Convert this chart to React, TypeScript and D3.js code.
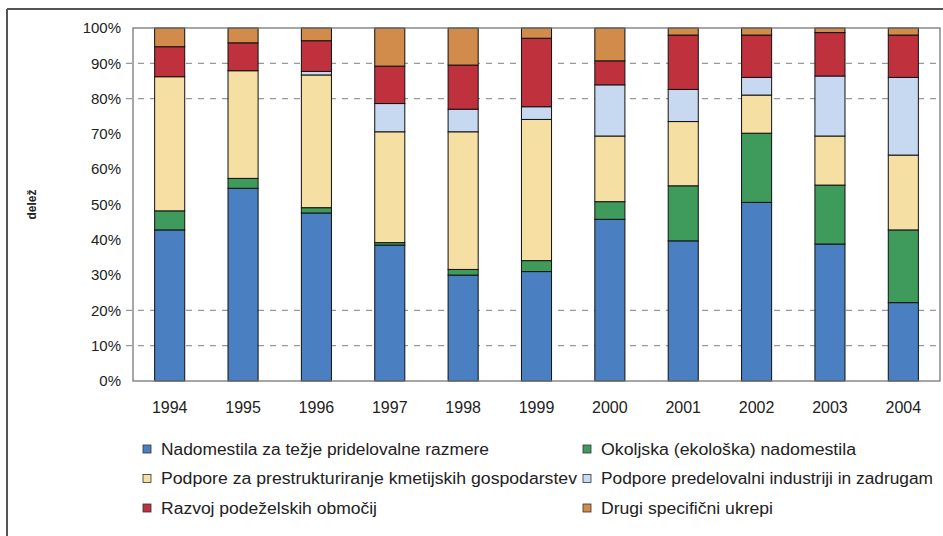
import React from "react";
import * as d3 from "d3";

const years = ["1994", "1995", "1996", "1997", "1998", "1999", "2000", "2001", "2002", "2003", "2004"];

const seriesNames = [
  "Nadomestila za težje pridelovalne razmere",
  "Okoljska (ekološka) nadomestila",
  "Podpore za prestrukturiranje kmetijskih gospodarstev",
  "Podpore predelovalni industriji in zadrugam",
  "Razvoj podeželskih območij",
  "Drugi specifični ukrepi",
];

// legend text widths
const legendWidths = [328, 255, 416, 332, 216, 172];

const colors = ["#4a7fc2", "#3f9b5c", "#f6dfa2", "#c7d9f0", "#be313d", "#d18b4b"];

// shares in %, one value per year
const lfa = [42.8, 54.6, 47.6, 38.5, 30.0, 31.0, 45.8, 39.7, 50.6, 38.8, 22.2];
const agriEnv = [5.4, 2.8, 1.5, 0.7, 1.6, 3.1, 5.0, 15.6, 19.6, 16.7, 20.6];
const restructuring = [38.0, 30.5, 37.6, 31.4, 39.0, 40.0, 18.6, 18.2, 10.8, 13.9, 21.2];
const processing = [0, 0, 1.0, 8.0, 6.4, 3.6, 14.5, 9.1, 5.0, 17.0, 22.0];
const rural = [8.5, 7.9, 8.7, 10.6, 12.5, 19.4, 6.8, 15.4, 12.0, 12.3, 12.0];
const other = [5.3, 4.2, 3.6, 10.8, 10.5, 2.9, 9.3, 2.0, 2.0, 1.3, 2.0];

const yTicks = [0, 10, 20, 30, 40, 50, 60, 70, 80, 90, 100];
const gridTicks = [10, 20, 80, 90];

const W = 943;
const H = 536;
const margin = { top: 28, right: 3, bottom: 155, left: 133 };

export default function App() {
  const table = years.map((year, i) => ({
    year,
    s0: lfa[i],
    s1: agriEnv[i],
    s2: restructuring[i],
    s3: processing[i],
    s4: rural[i],
    s5: other[i],
  }));
  const keys = ["s0", "s1", "s2", "s3", "s4", "s5"];
  const stacked = d3.stack<any>().keys(keys)(table);

  const x = d3
    .scaleBand()
    .domain(years)
    .range([margin.left, W - margin.right])
    .paddingInner(0.59)
    .paddingOuter(0.295);
  const y = d3.scaleLinear().domain([0, 100]).range([H - margin.bottom, margin.top]);

  const font = "'Liberation Sans', Arial, sans-serif";
  const plotW = W - margin.right - margin.left;

  return (
    <>
      <style>{"body{margin:0}"}</style>
      <svg width={W} height={H} style={{ display: "block", background: "#fff" }} fontFamily={font}>
        {/* outer frame */}
        <line x1={7} y1={9} x2={W} y2={9} stroke="#555" strokeWidth={2} />
        <line x1={7} y1={9} x2={7} y2={H} stroke="#555" strokeWidth={2} />

        {/* grid */}
        {gridTicks.map((t) => (
          <line
            key={t}
            x1={margin.left - 7}
            x2={W - margin.right}
            y1={y(t)}
            y2={y(t)}
            stroke="#999"
            strokeWidth={1.2}
            strokeDasharray="6 6"
          />
        ))}

        {/* bars */}
        {stacked.map((layer, li) => (
          <g key={li} fill={colors[li]}>
            {layer.map((d, i) =>
              d[1] - d[0] > 0 ? (
                <rect
                  key={i}
                  x={x(years[i])}
                  y={y(d[1])}
                  width={x.bandwidth()}
                  height={y(d[0]) - y(d[1])}
                  stroke="#111"
                  strokeWidth={1}
                />
              ) : null
            )}
          </g>
        ))}

        {/* plot frame */}
        <rect
          x={margin.left}
          y={margin.top}
          width={plotW}
          height={y(0) - y(100)}
          fill="none"
          stroke="#777"
          strokeWidth={1.3}
        />

        {/* y axis labels */}
        {yTicks.map((t) => (
          <text key={t} x={121} y={y(t)} dy="0.35em" textAnchor="end" fontSize={15} fill="#222">
            {t}%
          </text>
        ))}
        <text
          transform={`translate(36,${(y(0) + y(100)) / 2}) rotate(-90)`}
          textAnchor="middle"
          fontSize={12}
          fontWeight="bold"
          fill="#222"
        >
          delež
        </text>

        {/* x axis labels */}
        {years.map((yr) => (
          <text
            key={yr}
            x={(x(yr) as number) + x.bandwidth() / 2}
            y={413}
            textAnchor="middle"
            fontSize={16}
            fill="#222"
          >
            {yr}
          </text>
        ))}

        {/* legend */}
        {seriesNames.map((name, i) => {
          const col = i % 2;
          const row = Math.floor(i / 2);
          const lx = col === 0 ? 143 : 583;
          const ly = 449 + row * 29.5;
          return (
            <g key={name}>
              <rect x={lx} y={ly - 4} width={8} height={8} fill={colors[i]} stroke="#333" strokeWidth={0.8} />
              <text
                x={lx + 18}
                y={ly}
                dy="0.35em"
                fontSize={16}
                fill="#222"
                textLength={legendWidths[i]}
                lengthAdjust="spacingAndGlyphs"
              >
                {name}
              </text>
            </g>
          );
        })}
      </svg>
    </>
  );
}
